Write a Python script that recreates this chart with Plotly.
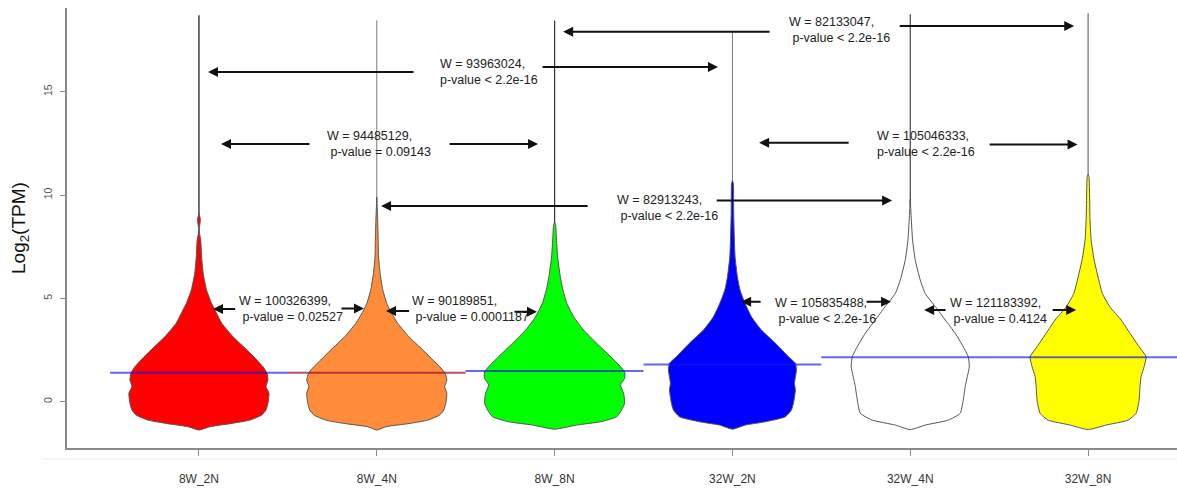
import plotly.graph_objects as go

# ---------------- data ----------------
groups = ["8W_2N", "8W_4N", "8W_8N", "32W_2N", "32W_4N", "32W_8N"]
fill_colors = ["#FF0000", "#FF8C3A", "#00FF00", "#0000FF", "#FFFFFF", "#FFFF00"]

# violin profiles: log2(TPM) levels and half-widths (in category units)
lev_8W_2N = [-1.37, -1.21, -1.05, -0.89, -0.64, -0.40, -0.08, 0.41, 0.73, 1.05, 1.40, 1.69, 2.02, 2.50,
             3.15, 3.79, 4.44, 4.76, 5.40, 6.20, 7.00, 7.83, 8.10, 8.40, 8.70, 8.85, 9.00, 9.10]
hw_8W_2N = [0.0, 0.062, 0.186, 0.287, 0.354, 0.377, 0.388, 0.394, 0.377, 0.388, 0.382, 0.360, 0.326, 0.270,
            0.191, 0.129, 0.090, 0.071, 0.043, 0.024, 0.015, 0.010, 0.004, 0.002, 0.007, 0.008, 0.003, 0.0]

lev_8W_4N = [-1.37, -1.21, -1.05, -0.89, -0.64, -0.40, -0.08, 0.41, 0.73, 1.05, 1.40, 1.69, 2.02, 2.50,
             3.15, 3.79, 4.44, 4.76, 5.40, 6.20, 7.00, 7.80, 8.80, 9.90]
hw_8W_4N = [0.0, 0.051, 0.186, 0.287, 0.354, 0.377, 0.388, 0.394, 0.382, 0.394, 0.382, 0.354, 0.315, 0.259,
            0.180, 0.118, 0.073, 0.056, 0.034, 0.019, 0.010, 0.008, 0.005, 0.0]

lev_8W_8N = [-1.33, -1.13, -0.97, -0.73, -0.40, -0.08, 0.41, 0.81, 1.13, 1.45, 1.69, 2.18, 2.83, 3.47,
             4.11, 4.76, 5.40, 6.05, 7.00, 7.98, 8.54, 8.70]
hw_8W_8N = [0.0, 0.124, 0.259, 0.349, 0.377, 0.394, 0.388, 0.371, 0.394, 0.394, 0.371, 0.315, 0.236, 0.163,
            0.107, 0.069, 0.047, 0.032, 0.017, 0.010, 0.006, 0.0]

lev_32W_2N = [-1.33, -1.13, -0.97, -0.73, -0.40, -0.08, 0.57, 0.89, 1.53, 1.86, 2.18, 2.83, 3.47, 4.11,
              4.76, 5.40, 6.05, 7.00, 7.82, 9.11, 10.57, 10.70]
hw_32W_2N = [0.0, 0.073, 0.186, 0.298, 0.332, 0.343, 0.354, 0.349, 0.360, 0.354, 0.315, 0.242, 0.163, 0.107,
             0.071, 0.043, 0.028, 0.015, 0.011, 0.007, 0.005, 0.0]

lev_32W_4N = [-1.35, -1.13, -0.89, -0.56, 0.08, 0.73, 1.21, 1.69, 2.18, 2.66, 3.31, 3.95, 4.60, 5.24,
              5.89, 6.86, 7.82, 8.79, 9.80]
hw_32W_4N = [0.0, 0.084, 0.214, 0.281, 0.298, 0.309, 0.321, 0.332, 0.326, 0.298, 0.253, 0.197, 0.141, 0.084,
             0.056, 0.028, 0.013, 0.006, 0.0]

lev_32W_8N = [-1.35, -1.13, -0.89, -0.56, 0.08, 0.73, 1.21, 1.69, 2.18, 2.66, 3.31, 3.95, 4.60, 5.24,
              5.89, 6.86, 7.82, 8.79, 10.89, 11.00]
hw_32W_8N = [0.0, 0.101, 0.225, 0.270, 0.287, 0.292, 0.298, 0.315, 0.326, 0.287, 0.236, 0.186, 0.122, 0.080,
             0.060, 0.034, 0.017, 0.011, 0.005, 0.0]

levels = [lev_8W_2N, lev_8W_4N, lev_8W_8N, lev_32W_2N, lev_32W_4N, lev_32W_8N]
halfwidths = [hw_8W_2N, hw_8W_4N, hw_8W_8N, hw_32W_2N, hw_32W_4N, hw_32W_8N]

# maximum values (top of the thin line) and medians
max_values = [18.7, 18.45, 18.45, 17.9, 18.75, 18.8]
medians = [1.40, 1.40, 1.48, 1.80, 2.15, 2.15]

# Wilcoxon test results
w_stats = ["93963024", "94485129", "82913243", "82133047", "105046333",
           "100326399", "90189851", "105835488", "121183392"]
p_texts = ["p-value < 2.2e-16", "p-value = 0.09143", "p-value < 2.2e-16", "p-value < 2.2e-16",
           "p-value < 2.2e-16", "p-value = 0.02527", "p-value = 0.0001187", "p-value < 2.2e-16",
           "p-value = 0.4124"]

# ---------------- layout of the annotations (data units) ----------------
# text anchor (left x, middle y), whether line 2 is indented by a space
text_pos = [(2.345, 15.93, False), (1.709, 12.49, True), (3.340, 9.36, True), (4.307, 18.00, True),
            (4.802, 12.49, False), (1.214, 4.49, True), (2.187, 4.50, True), (4.229, 4.40, True),
            (5.213, 4.40, True)]
# arrows: (tail x, tail y, head x, head y)
arrows = [
    (2.215, 15.95, 1.051, 15.95), (2.924, 16.19, 3.919, 16.19),
    (1.630, 12.47, 1.124, 12.47), (2.401, 12.47, 2.907, 12.47),
    (3.194, 9.47, 2.024, 9.47), (3.903, 9.73, 4.898, 9.73),
    (4.217, 17.90, 3.048, 17.90), (4.932, 18.18, 5.922, 18.18),
    (4.662, 12.53, 4.150, 12.53), (5.438, 12.45, 5.941, 12.45),
    (1.212, 4.48, 1.079, 4.48), (1.793, 4.51, 1.928, 4.51),
    (2.190, 4.39, 2.052, 4.39), (2.766, 4.35, 2.901, 4.35),
    (4.167, 4.84, 4.049, 4.84), (4.746, 4.84, 4.892, 4.84),
    (5.207, 4.44, 5.078, 4.44), (5.792, 4.44, 5.933, 4.44),
]

whisker_colors = ["#222222", "#7a7a7a", "#333333", "#7a7a7a", "#444444", "#555555"]
whisker_widths = [1.3, 1.0, 1.2, 1.0, 1.2, 1.0]
median_colors = ["rgba(20,20,230,0.65)", "rgba(170,20,50,0.75)", "rgba(20,20,230,0.65)",
                 "rgba(20,20,230,0.65)", "rgba(20,20,230,0.65)", "rgba(20,20,230,0.65)"]

FONT = "Liberation Sans, Arial, sans-serif"

fig = go.Figure()

# whiskers (under violins)
for i, g in enumerate(groups):
    c = i + 1
    fig.add_trace(go.Scatter(x=[c, c], y=[levels[i][-1] - 0.3, max_values[i]], mode="lines",
                             line=dict(color=whisker_colors[i], width=whisker_widths[i]),
                             hoverinfo="skip", showlegend=False))

# violins
for i, g in enumerate(groups):
    c = i + 1
    lv, hw = levels[i], halfwidths[i]
    xs = [c + w for w in hw] + [c - w for w in reversed(hw)]
    ys = list(lv) + list(reversed(lv))
    fig.add_trace(go.Scatter(x=xs, y=ys, mode="lines", fill="toself", fillcolor=fill_colors[i],
                             line=dict(color="#555555", width=1, shape="spline", smoothing=0.5),
                             name=g, hoverinfo="skip", showlegend=False))

# median lines
for i, g in enumerate(groups):
    c = i + 1
    fig.add_trace(go.Scatter(x=[c - 0.5, c + 0.5], y=[medians[i], medians[i]], mode="lines",
                             line=dict(color=median_colors[i], width=2),
                             hoverinfo="skip", showlegend=False))

annotations = []
for k in range(len(w_stats)):
    tx, ty, indent = text_pos[k]
    sp = "\u00a0" if indent else ""
    annotations.append(dict(x=tx, y=ty, xref="x", yref="y", xanchor="left", yanchor="middle",
                            align="left", showarrow=False,
                            text=f"W = {w_stats[k]},<br>{sp}{p_texts[k]}",
                            font=dict(family=FONT, size=12.5, color="#222222")))
for (x0, y0, x1, y1) in arrows:
    annotations.append(dict(x=x1, y=y1, ax=x0, ay=y0, xref="x", yref="y", axref="x", ayref="y",
                            text="", showarrow=True, arrowhead=2, arrowsize=1.0, arrowwidth=2,
                            arrowcolor="#111111"))
# y-axis title
annotations.append(dict(x=0, y=0.5, xref="paper", yref="paper", xshift=-47, xanchor="center",
                        yanchor="middle", textangle=-90, showarrow=False,
                        text="Log<sub>2</sub>(TPM)", font=dict(family=FONT, size=19, color="#111111")))

fig.update_layout(
    width=1177, height=490,
    margin=dict(l=67, r=0, t=8, b=42),
    plot_bgcolor="white", paper_bgcolor="white",
    annotations=annotations,
    shapes=[dict(type="line", xref="paper", yref="paper", x0=-0.0225, x1=1, y0=-0.025, y1=-0.025,
                 line=dict(color="#ececec", width=1))],
    xaxis=dict(range=[0.258, 6.5], tickvals=list(range(1, 7)), ticktext=groups,
               showline=True, linecolor="#8a8a8a", linewidth=1.5, ticks="outside", ticklen=6,
               tickcolor="#8a8a8a", showgrid=False, zeroline=False, ticklabelstandoff=13,
               tickfont=dict(family=FONT, size=12, color="#333333")),
    yaxis=dict(range=[-2.24, 19.05], tickvals=[0, 5, 10, 15], showline=True, linecolor="#8a8a8a",
               linewidth=1.5, ticks="outside", ticklen=5, tickcolor="#8a8a8a", showgrid=False,
               zeroline=False, tickangle=-90, ticklabelstandoff=4,
               tickfont=dict(family=FONT, size=10.5, color="#555555")),
)

fig.write_html("out.html")
